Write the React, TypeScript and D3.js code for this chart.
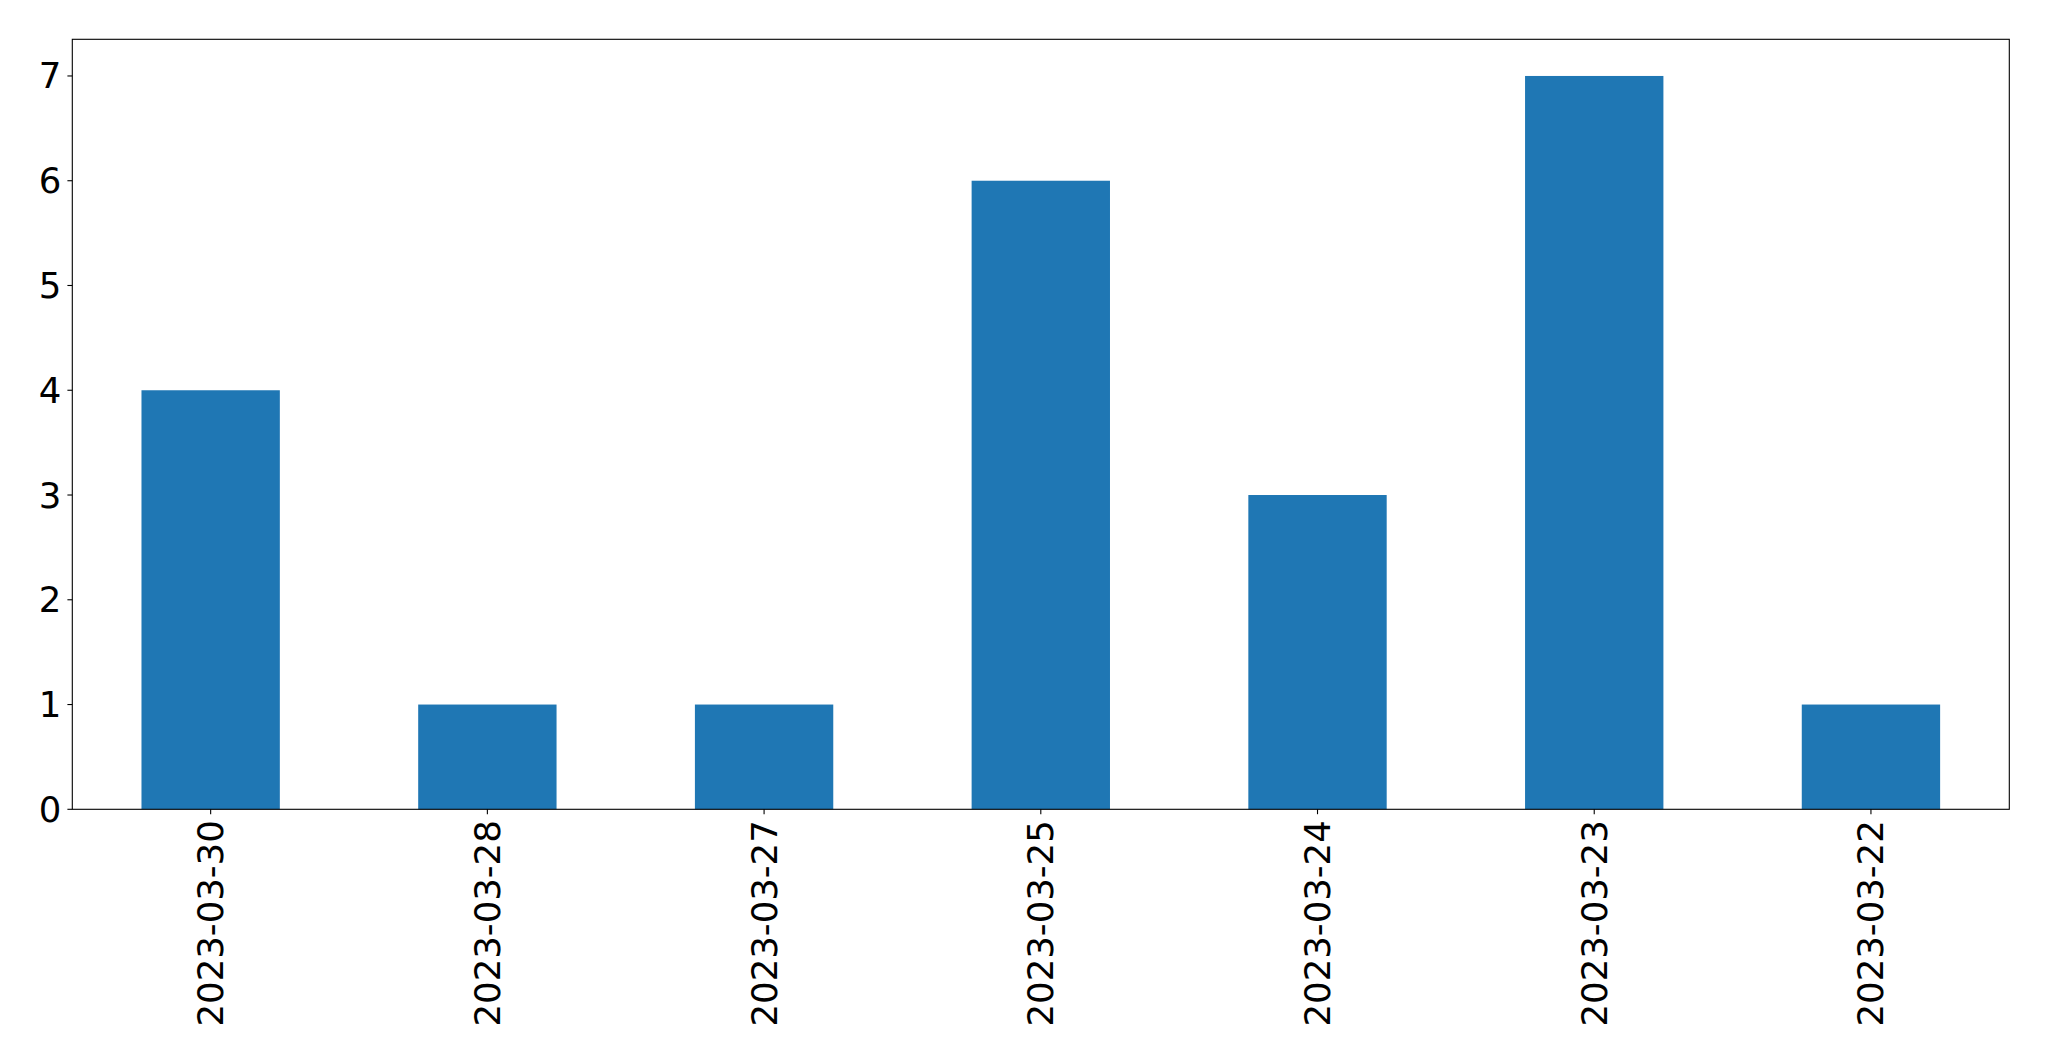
import React from "react";
import * as d3 from "d3";

const categories = ["2023-03-30", "2023-03-28", "2023-03-27", "2023-03-25", "2023-03-24", "2023-03-23", "2023-03-22"];
const values = [4, 1, 1, 6, 3, 7, 1];
const yTicks = [0, 1, 2, 3, 4, 5, 6, 7];

const W = 2049, H = 1061;
const left = 72.3, right = 2009.3, top = 39.3, bottom = 809.3;

export default function App() {
  const x = d3.scaleBand<string>().domain(categories).range([left, right]).paddingInner(0.5).paddingOuter(0.25);
  const y = d3.scaleLinear().domain([0, 7.35]).range([bottom, top]);
  const font = "'DejaVu Sans', sans-serif";
  const tick = 4.9;
  const fs = 35.5;
  return (
    <svg width={W} height={H} style={{ position: "absolute", left: 0, top: 0, background: "#fff" }}>
      {categories.map((c, i) => (
        <rect key={c} x={x(c)} y={y(values[i])} width={x.bandwidth()} height={y(0) - y(values[i])} fill="#1f77b4" />
      ))}
      <rect x={left} y={top} width={right - left} height={bottom - top} fill="none" stroke="#000" strokeWidth={1.1} />
      {yTicks.map((t) => (
        <g key={t}>
          <line x1={left - tick} x2={left} y1={y(t)} y2={y(t)} stroke="#000" strokeWidth={1.1} />
          <text x={left - tick - 6} y={y(t)} textAnchor="end" dominantBaseline="central" fontFamily={font} fontSize={fs}>{t}</text>
        </g>
      ))}
      {categories.map((c) => {
        const cx = x(c)! + x.bandwidth() / 2;
        return (
          <g key={c}>
            <line x1={cx} x2={cx} y1={bottom} y2={bottom + tick} stroke="#000" strokeWidth={1.1} />
            <text transform={`translate(${cx},${bottom + tick + 6}) rotate(-90)`} textAnchor="end" dominantBaseline="central" fontFamily={font} fontSize={fs}>{c}</text>
          </g>
        );
      })}
    </svg>
  );
}
